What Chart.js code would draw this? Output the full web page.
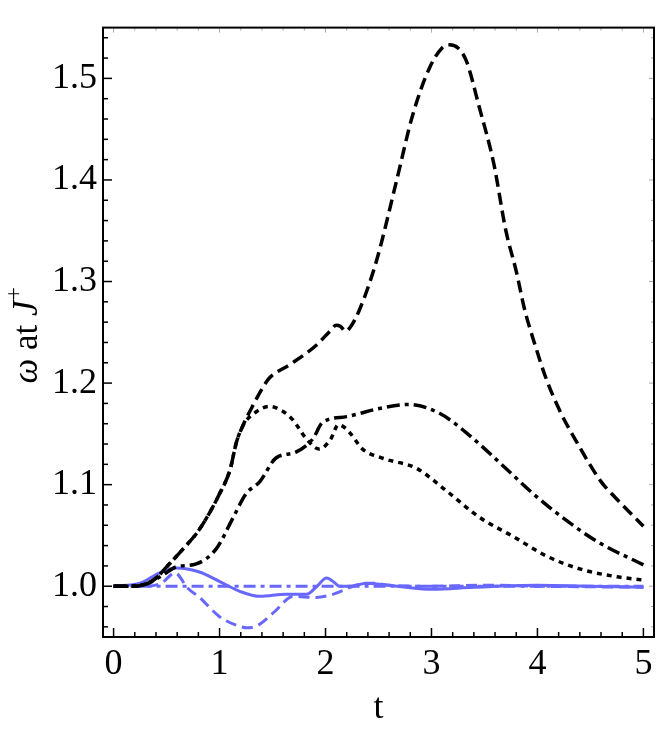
<!DOCTYPE html>
<html>
<head>
<meta charset="utf-8">
<script src="https://cdn.jsdelivr.net/npm/chart.js@4.4.0/dist/chart.umd.min.js"></script>
<style>
body { margin: 0; background: #fff; }
</style>
</head>
<body>
<canvas id="omega_chart" width="667" height="730"></canvas>
<script>
// black curves
const dashT = [0, 0.2, 0.3, 0.4, 0.5, 0.65, 0.81, 1.0, 1.1, 1.16, 1.22, 1.3, 1.41, 1.47, 1.66, 1.91, 2.05, 2.1, 2.14, 2.19, 2.24, 2.32, 2.48, 2.67, 2.82, 2.98, 3.1, 3.17, 3.25, 3.33, 3.45, 3.59, 3.7, 3.8, 3.88, 3.97, 4.08, 4.21, 4.37, 4.6, 4.71, 5.0];
const dashW = [1.0, 1.0, 1.002, 1.008, 1.019, 1.036, 1.056, 1.091, 1.115, 1.142, 1.158, 1.175, 1.196, 1.205, 1.218, 1.237, 1.252, 1.257, 1.256, 1.251, 1.256, 1.272, 1.32, 1.399, 1.463, 1.51, 1.53, 1.533, 1.53, 1.517, 1.472, 1.415, 1.351, 1.31, 1.272, 1.24, 1.205, 1.173, 1.142, 1.103, 1.09, 1.059];

const dotT = [0, 0.2, 0.3, 0.4, 0.5, 0.65, 0.81, 1.0, 1.1, 1.16, 1.22, 1.35, 1.47, 1.6, 1.69, 1.82, 1.94, 2.05, 2.12, 2.17, 2.23, 2.35, 2.54, 2.86, 3.14, 3.45, 3.77, 4.08, 4.4, 4.71, 5.0];
const dotW = [1.0, 1.0, 1.002, 1.008, 1.019, 1.036, 1.056, 1.091, 1.115, 1.142, 1.158, 1.172, 1.177, 1.172, 1.164, 1.145, 1.135, 1.145, 1.159, 1.157, 1.151, 1.135, 1.126, 1.116, 1.094, 1.068, 1.049, 1.03, 1.017, 1.01, 1.006];

const dashDotT = [0, 0.3, 0.45, 0.59, 0.78, 0.97, 1.13, 1.25, 1.38, 1.53, 1.72, 1.88, 1.97, 2.2, 2.51, 2.79, 3.08, 3.33, 3.64, 3.96, 4.27, 4.58, 5.0];
const dashDotW = [1.0, 1.002, 1.01, 1.019, 1.022, 1.037, 1.068, 1.091, 1.103, 1.126, 1.132, 1.145, 1.161, 1.167, 1.175, 1.179, 1.17, 1.151, 1.122, 1.091, 1.065, 1.043, 1.021];

// blue curves
const blueT = [0, 0.25, 0.43, 0.59, 0.81, 1.03, 1.19, 1.38, 1.63, 1.82, 1.92, 2.01, 2.08, 2.13, 2.25, 2.38, 2.6, 3.0, 3.4, 4.0, 4.5, 5.0];
const blueW = [1.0, 1.003, 1.013, 1.018, 1.014, 1.003, 0.995, 0.99, 0.992, 0.992, 1.0, 1.008, 1.004, 1.0, 1.0, 1.003, 1.001, 0.997, 0.999, 1.001, 1.0, 0.999];

const blueDashT = [0, 0.3, 0.45, 0.58, 0.7, 0.81, 1.0, 1.15, 1.26, 1.37, 1.53, 1.69, 1.91, 2.07, 2.32, 2.45, 2.6, 3.0, 3.5, 4.0, 5.0];
const blueDashW = [1.0, 1.0, 1.003, 1.013, 0.998, 0.989, 0.97, 0.962, 0.959, 0.962, 0.976, 0.99, 0.989, 0.992, 1.002, 1.003, 1.001, 1.0, 1.001, 1.0, 0.999];

const blueDashDotT = [0, 1, 2, 3, 4, 5];
const blueDashDotW = [1.0, 1.0, 1.0, 1.0, 1.0, 1.0];

const xMajor = [0, 1, 2, 3, 4, 5];
const yMajor = [1.0, 1.1, 1.2, 1.3, 1.4, 1.5];

const BLUE = '#6868ff';
const serif = "'Liberation Serif', 'Times New Roman', serif";

const pts = (ts, ws) => ts.map((t, i) => ({x: t, y: ws[i]}));

function line(data, color, dash, width) {
  return {
    data: data,
    borderColor: color,
    borderWidth: width,
    borderDash: dash,
    pointRadius: 0,
    fill: false,
    cubicInterpolationMode: 'monotone'
  };
}

// frame with inward ticks, like the original plot
const framePlugin = {
  id: 'frame',
  afterDatasetsDraw(chart) {
    const {ctx, chartArea: a, scales: {x, y}} = chart;
    ctx.save();
    ctx.lineCap = 'butt';
    for (let i = 0; i <= 25; i++) {
      const v = i * 0.2;
      const px = x.getPixelForValue(v);
      const major = i % 5 === 0;
      ctx.strokeStyle = '#000';
      ctx.lineWidth = 1.5;
      ctx.beginPath();
      ctx.moveTo(px, a.bottom);
      ctx.lineTo(px, a.bottom - (major ? 9 : 5));
      ctx.stroke();
      ctx.strokeStyle = '#aaa';
      ctx.lineWidth = 1;
      ctx.beginPath();
      ctx.moveTo(px, a.top);
      ctx.lineTo(px, a.top + (major ? 5 : 3));
      ctx.stroke();
    }
    for (let i = 48; i <= 77; i++) {
      const v = i * 0.02;
      const py = y.getPixelForValue(v);
      const major = i % 5 === 0;
      ctx.strokeStyle = '#000';
      ctx.lineWidth = 1.5;
      ctx.beginPath();
      ctx.moveTo(a.left, py);
      ctx.lineTo(a.left + (major ? 9 : 5), py);
      ctx.stroke();
      ctx.strokeStyle = '#aaa';
      ctx.lineWidth = 1;
      ctx.beginPath();
      ctx.moveTo(a.right, py);
      ctx.lineTo(a.right - (major ? 5 : 3), py);
      ctx.stroke();
    }
    ctx.strokeStyle = '#000';
    ctx.lineWidth = 2;
    ctx.strokeRect(a.left, a.top, a.right - a.left, a.bottom - a.top);

    // y axis title: omega at scri+
    ctx.translate(37, (a.top + a.bottom) / 2 + 3);
    ctx.rotate(-Math.PI / 2);
    const parts = [
      {s: 'ω', f: 'italic 35px ' + serif, dy: 0},
      {s: ' at ', f: '35px ' + serif, dy: 0},
      {s: 'J', f: 'italic 35px ' + serif, dy: 0},
      {s: '+', f: '24px ' + serif, dy: -16}
    ];
    let total = 0;
    parts.forEach(p => { ctx.font = p.f; p.w = ctx.measureText(p.s).width; total += p.w; });
    let cx = -total / 2;
    ctx.fillStyle = '#000';
    ctx.textBaseline = 'alphabetic';
    parts.forEach(p => { ctx.font = p.f; ctx.fillText(p.s, cx, p.dy); cx += p.w; });
    ctx.restore();
  }
};

const cvas = document.getElementById('omega_chart');
const ctz = cvas.getContext('2d');

const omega_chart = new Chart(ctz, {
  type: 'line',
  data: {
    datasets: [
      line(pts(dashT, dashW), '#000', [12, 6], 3.5),
      line(pts(dotT, dotW), '#000', [5, 5], 3.5),
      line(pts(dashDotT, dashDotW), '#000', [13, 5, 4, 5], 3.5),
      line(pts(blueDashDotT, blueDashDotW), BLUE, [12, 5, 4, 5], 3),
      line(pts(blueDashT, blueDashW), BLUE, [11, 6], 3),
      line(pts(blueT, blueW), BLUE, [], 3)
    ]
  },
  options: {
    responsive: false,
    animation: false,
    layout: { padding: { top: 8, right: 13, left: 0, bottom: 0 } },
    plugins: {
      legend: { display: false },
      tooltip: { enabled: false }
    },
    scales: {
      x: {
        type: 'linear',
        min: -0.1,
        max: 5.1,
        afterBuildTicks: s => { s.ticks = xMajor.map(v => ({value: v})); },
        afterFit: s => { s.height = 93; },
        grid: { display: false, drawTicks: false },
        border: { display: false },
        ticks: {
          color: '#000',
          padding: 6,
          maxRotation: 0,
          font: { family: serif, size: 36 },
          callback: v => String(v)
        },
        title: {
          display: true,
          text: 't',
          color: '#000',
          padding: { top: 0, bottom: 0 },
          font: { family: serif, size: 36 }
        }
      },
      y: {
        type: 'linear',
        min: 0.95,
        max: 1.55,
        afterBuildTicks: s => { s.ticks = yMajor.map(v => ({value: v})); },
        afterFit: s => { s.width = 103; },
        grid: { display: false, drawTicks: false },
        border: { display: false },
        ticks: {
          color: '#000',
          padding: 6,
          font: { family: serif, size: 36 },
          callback: v => Number(v).toFixed(1)
        }
      }
    }
  },
  plugins: [framePlugin]
});
</script>
</body>
</html>
